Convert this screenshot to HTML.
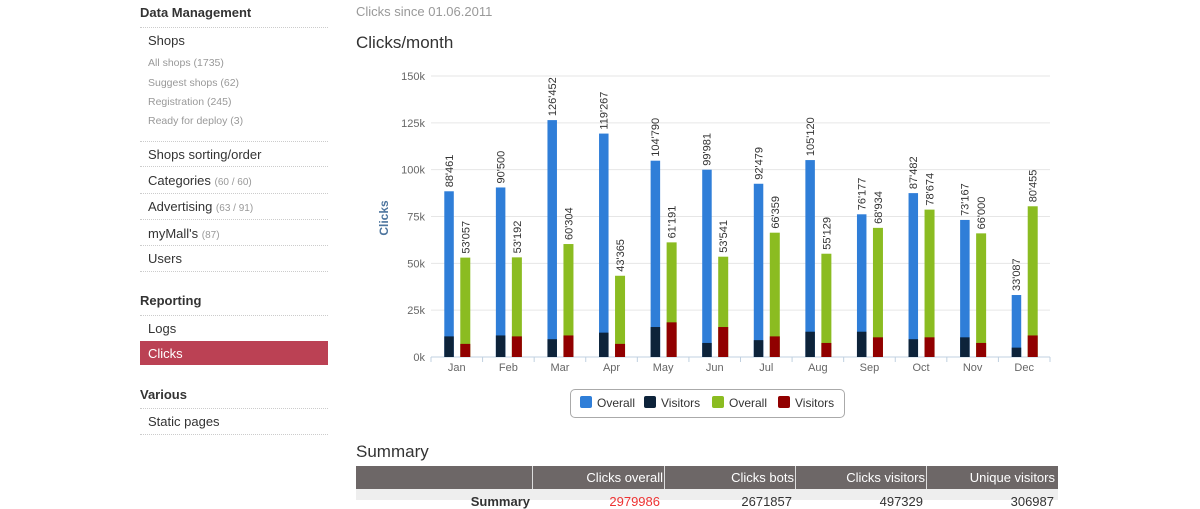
<!DOCTYPE html>
<html><head><meta charset="utf-8"><style>
body{margin:0;width:1200px;height:500px;overflow:hidden;background:#fff;font-family:"Liberation Sans",sans-serif;position:relative}
.a{position:absolute;white-space:nowrap}
.h{font-weight:bold;font-size:13px;color:#333}
.it{font-size:13px;color:#333}
.sub{font-size:10.5px;color:#999}
.ln{position:absolute;left:140px;width:188px;border-top:1px dotted #ccc;height:0}
.g{color:#999;font-size:10px}
</style></head><body>
<div class="a h" style="left:140px;top:5px">Data Management</div>
<div class="ln" style="top:27px"></div>
<div class="a it" style="left:148px;top:33px">Shops</div>
<div class="a sub" style="left:148px;top:57px">All shops (1735)</div>
<div class="a sub" style="left:148px;top:77px">Suggest shops (62)</div>
<div class="a sub" style="left:148px;top:96px">Registration (245)</div>
<div class="a sub" style="left:148px;top:115px">Ready for deploy (3)</div>
<div class="ln" style="top:141px"></div>
<div class="a it" style="left:148px;top:147px">Shops sorting/order</div>
<div class="ln" style="top:166px"></div>
<div class="a it" style="left:148px;top:173px">Categories <span class="g">(60 / 60)</span></div>
<div class="ln" style="top:193px"></div>
<div class="a it" style="left:148px;top:199px">Advertising <span class="g">(63 / 91)</span></div>
<div class="ln" style="top:219px"></div>
<div class="a it" style="left:148px;top:226px">myMall's <span class="g">(87)</span></div>
<div class="ln" style="top:245px"></div>
<div class="a it" style="left:148px;top:251px">Users</div>
<div class="ln" style="top:271px"></div>
<div class="a h" style="left:140px;top:293px">Reporting</div>
<div class="ln" style="top:315px"></div>
<div class="a it" style="left:148px;top:321px">Logs</div>
<div class="a" style="left:140px;top:341px;width:188px;height:24px;background:#bb4154"></div>
<div class="a it" style="left:148px;top:346px;color:#fff">Clicks</div>
<div class="a h" style="left:140px;top:387px">Various</div>
<div class="ln" style="top:408px"></div>
<div class="a it" style="left:148px;top:414px">Static pages</div>
<div class="ln" style="top:434px"></div>

<div class="a" style="left:356px;top:4px;font-size:13px;color:#999">Clicks since 01.06.2011</div>
<div class="a" style="left:356px;top:33px;font-size:17px;color:#333">Clicks/month</div>
<svg class="a" style="left:0;top:0" width="1200" height="500" id="s" font-family="Liberation Sans, sans-serif"></svg>
<div class="a" style="left:570px;top:389px;width:273px;height:27px;border:1px solid #aaa;border-radius:5px;font-size:12px;color:#333">
<span class="a" style="left:9px;top:6px;width:12px;height:12px;background:#2f7ed8;border-radius:2px"></span><span class="a" style="left:26px;top:6px">Overall</span>
<span class="a" style="left:73px;top:6px;width:12px;height:12px;background:#0d233a;border-radius:2px"></span><span class="a" style="left:90px;top:6px">Visitors</span>
<span class="a" style="left:141px;top:6px;width:12px;height:12px;background:#8bbc21;border-radius:2px"></span><span class="a" style="left:158px;top:6px">Overall</span>
<span class="a" style="left:207px;top:6px;width:12px;height:12px;background:#910000;border-radius:2px"></span><span class="a" style="left:224px;top:6px">Visitors</span>
</div>
<div class="a" style="left:356px;top:442px;font-size:17px;color:#333">Summary</div>
<div class="a" style="left:356px;top:466px;width:702px;height:23px;background:#6d6767"></div>
<div class="a" style="left:356px;top:489px;width:702px;height:11px;background:#eee"></div>
<div class="a" style="left:532px;top:466px;width:1px;height:23px;background:#ddd"></div>
<div class="a" style="left:664px;top:466px;width:1px;height:23px;background:#ddd"></div>
<div class="a" style="left:795px;top:466px;width:1px;height:23px;background:#ddd"></div>
<div class="a" style="left:926px;top:466px;width:1px;height:23px;background:#ddd"></div>
<div class="a" style="right:537px;top:470px;font-size:13px;color:#fff">Clicks overall</div>
<div class="a" style="right:406px;top:470px;font-size:13px;color:#fff">Clicks bots</div>
<div class="a" style="right:275px;top:470px;font-size:13px;color:#fff">Clicks visitors</div>
<div class="a" style="right:145px;top:470px;font-size:13px;color:#fff">Unique visitors</div>
<div class="a" style="right:670px;top:494px;font-size:13px;color:#333;font-weight:bold">Summary</div>
<div class="a" style="right:540px;top:494px;font-size:13px;color:#e33">2979986</div>
<div class="a" style="right:408px;top:494px;font-size:13px;color:#333">2671857</div>
<div class="a" style="right:277px;top:494px;font-size:13px;color:#333">497329</div>
<div class="a" style="right:146px;top:494px;font-size:13px;color:#333">306987</div>
<script>
var s=document.getElementById('s'),h='';
var y0=357,k=281/150000,L=431,R=1050,w=(R-L)/12;
for(var i=0;i<=6;i++){var y=y0-i*25000*k;
 if(i>0)h+='<line x1="'+L+'" x2="'+R+'" y1="'+y+'" y2="'+y+'" stroke="#e6e6e6"/>';
 h+='<text x="425" y="'+(y+4)+'" text-anchor="end" font-size="11" fill="#666">'+(i*25)+'k</text>';}
h+='<line x1="'+L+'" x2="'+R+'" y1="'+y0+'" y2="'+y0+'" stroke="#c0d0e0"/>';
h+='<text transform="translate(388,218) rotate(-90)" text-anchor="middle" font-size="12" font-weight="bold" fill="#4d759e">Clicks</text>';
var m='Jan Feb Mar Apr May Jun Jul Aug Sep Oct Nov Dec'.split(' ');
var B=[88461,90500,126452,119267,104790,99981,92479,105120,76177,87482,73167,33087];
var G=[53057,53192,60304,43365,61191,53541,66359,55129,68934,78674,66000,80455];
var D=[11000,11500,9500,13000,16000,7500,9000,13500,13500,9500,10500,5000];
var Rd=[7000,11000,11500,7000,18500,16000,11000,7500,10500,10500,7500,11500];
function f(v){var t=String(v);return t.length>3?t.slice(0,-3)+"'"+t.slice(-3):t;}
for(var i=0;i<12;i++){var c=L+w*(i+.5),x=L+w*i;
 h+='<line x1="'+x+'" x2="'+x+'" y1="'+y0+'" y2="'+(y0+5)+'" stroke="#c0d0e0"/>';
 h+='<text x="'+c+'" y="371" text-anchor="middle" font-size="11" fill="#666">'+m[i]+'</text>';
 function bar(x1,bw,v,col){var t=y0-v*k;h+='<rect x="'+x1+'" y="'+t+'" width="'+bw+'" height="'+(y0-t)+'" fill="'+col+'"/>';return t;}
 var t1=bar(c-12.5,9.5,B[i],'#2f7ed8');bar(c-12.5,9.5,D[i],'#0d233a');
 var t2=bar(c+3.5,10,G[i],'#8bbc21');bar(c+3.5,10,Rd[i],'#910000');
 h+='<text transform="translate('+(c-4)+','+(t1-4)+') rotate(-90)" font-size="11" fill="#333">'+f(B[i])+'</text>';
 h+='<text transform="translate('+(c+12.5)+','+(t2-4)+') rotate(-90)" font-size="11" fill="#333">'+f(G[i])+'</text>';}
h+='<line x1="'+R+'" x2="'+R+'" y1="'+y0+'" y2="'+(y0+5)+'" stroke="#c0d0e0"/>';
s.innerHTML=h;
</script>
</body></html>
